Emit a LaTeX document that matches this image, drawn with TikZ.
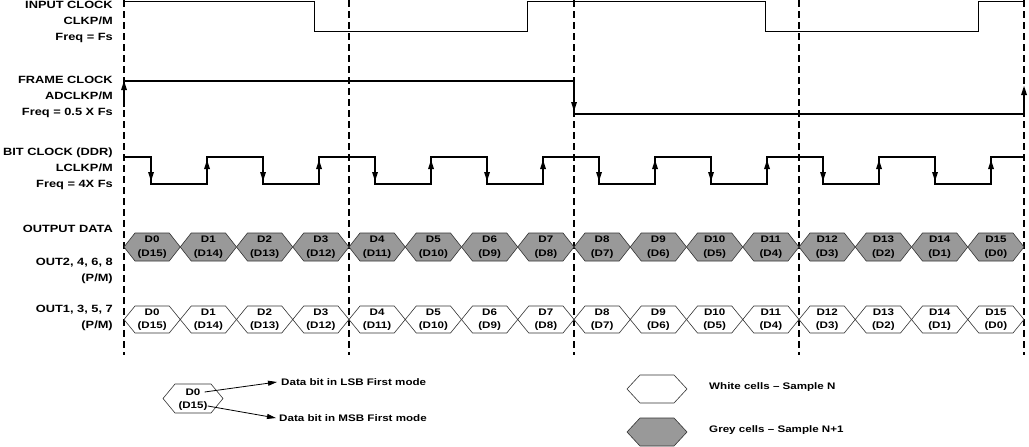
\documentclass[tikz,border=0pt]{standalone}
\usepackage{fontspec}
\setmainfont{Liberation Sans}
\usetikzlibrary{positioning,arrows.meta}

% arrow heads drawn as filled triangles, tip at (#1,#2)
\newcommand{\uptip}[2]{\fill[black] (#1,#2) -- ++(-3,9) -- ++(6,0) -- cycle;}
\newcommand{\downtip}[2]{\fill[black] (#1,#2) -- ++(-3,-9) -- ++(6,0) -- cycle;}

\begin{document}
\begin{tikzpicture}[x=1pt,y=-1pt]
\tikzstyle{every node}+=[inner sep=0pt]
\tikzstyle{wide}=[xscale=1.22,transform shape]
\tikzstyle{lbl}=[wide,anchor=east,align=right,font=\bfseries\fontsize{10.5}{16}\selectfont]
\tikzstyle{celltxt}=[wide,align=center,font=\bfseries\fontsize{9.5}{13.5}\selectfont]
\tikzstyle{keytxt}=[wide,anchor=west,font=\bfseries\fontsize{9.5}{12}\selectfont]
\tikzstyle{gridline}=[black,line width=1.2pt,dash pattern=on 7pt off 4pt]
\tikzstyle{cellwhite}=[draw=black!80,line width=0.6pt,fill=white]
\tikzstyle{cellgrey}=[draw=black!80,line width=0.6pt,fill=black!40]
\useasboundingbox (0,0) rectangle (1029,447);

% labels
\node[lbl] (inclk) at (113,22) {INPUT CLOCK\\CLKP/M\\Freq = Fs};
\node[lbl] (frclk) at (113,97) {FRAME CLOCK\\ADCLKP/M\\Freq = 0.5 X Fs};
\node[lbl] (btclk) at (113,168.5) {BIT CLOCK (DDR)\\LCLKP/M\\Freq = 4X Fs};
\node[lbl] (outdata) at (113,229) {OUTPUT DATA};
\node[lbl] (outeven) at (113,270.5) {OUT2, 4, 6, 8\\(P/M)};
\node[lbl] (outodd) at (113,317.5) {OUT1, 3, 5, 7\\(P/M)};

% dashed frame boundaries
\foreach \x in {124,349,574,799,1024}
  \draw[gridline] (\x,0) -- (\x,355);

% input clock
\draw[black,line width=1pt] (124,1.5) -- (314,1.5) -- (314,31) -- (527,31) -- (527,1.5) -- (765,1.5) -- (765,31) -- (978,31) -- (978,1.5) -- (1024,1.5);

% frame clock
\draw[black,line width=1.2pt] (124,81) -- (574,81) -- (574,114) -- (1024,114);
\draw[black,line width=1.2pt] (124,107) -- (124,88);
\uptip{124}{81}
\downtip{574}{111}
\draw[black,line width=1.2pt] (1024,114) -- (1024,92);
\uptip{1024}{86}

% bit clock
\draw[black,line width=1.5pt] (124,157) -- (151,157) -- (151,184) -- (207,184) -- (207,157) -- (263,157) -- (263,184) -- (319,184) -- (319,157) -- (375,157) -- (375,184) -- (431,184) -- (431,157) -- (487,157) -- (487,184) -- (543,184) -- (543,157) -- (599,157) -- (599,184) -- (655,184) -- (655,157) -- (711,157) -- (711,184) -- (767,184) -- (767,157) -- (823,157) -- (823,184) -- (879,184) -- (879,157) -- (935,157) -- (935,184) -- (991,184) -- (991,157) -- (1024,157);
\foreach \x in {151,263,375,487,599,711,823,935}{
  \downtip{\x}{181}
}
\foreach \x in {207,319,431,543,655,767,879,991}{
  \uptip{\x}{160}
}

% data cells
\foreach \k in {0,...,15}{
  \pgfmathsetmacro{\xa}{124+56.25*\k}
  \pgfmathtruncatemacro{\m}{15-\k}
  \path[cellgrey] (\xa,247) -- ++(11,-14) -- ++(34.25,0) -- ++(11,14) -- ++(-11,14) -- ++(-34.25,0) -- cycle;
  \path[cellwhite] (\xa,319.5) -- ++(11,-13.5) -- ++(34.25,0) -- ++(11,13.5) -- ++(-11,13.5) -- ++(-34.25,0) -- cycle;
  \node[celltxt] (g\k) at (\xa+28.125,247) {D\k\\(D\m)};
  \node[celltxt] (w\k) at (\xa+28.125,319.5) {D\k\\(D\m)};
}

% key
\path[cellwhite] (163,398.5) -- ++(12,-14.5) -- ++(36,0) -- ++(12,14.5) -- ++(-12,14.5) -- ++(-36,0) -- cycle;
\node[celltxt] (key0) at (193,392) {D0};
\node[celltxt] (key1) at (193,406) {(D15)};
\node[keytxt] (lsb) at (281,382) {Data bit in LSB First mode};
\node[keytxt] (msb) at (279,418) {Data bit in MSB First mode};
\draw[black,line width=0.8pt,-{Triangle[length=9pt,width=5pt]}] ([xshift=4pt]key0.east) -- ([xshift=-4pt]lsb.west);
\draw[black,line width=0.8pt,-{Triangle[length=9pt,width=5pt]}] (key1.east) -- ([xshift=-3pt]msb.west);

\path[cellwhite] (627,389) -- ++(13,-14) -- ++(34,0) -- ++(13,14) -- ++(-13,14) -- ++(-34,0) -- cycle;
\path[cellgrey] (627,432) -- ++(13,-14) -- ++(34,0) -- ++(13,14) -- ++(-13,14) -- ++(-34,0) -- cycle;
\node[keytxt] (white) at (709,387) {White cells – Sample N};
\node[keytxt] (grey) at (709,430) {Grey cells – Sample N+1};
\end{tikzpicture}
\end{document}
